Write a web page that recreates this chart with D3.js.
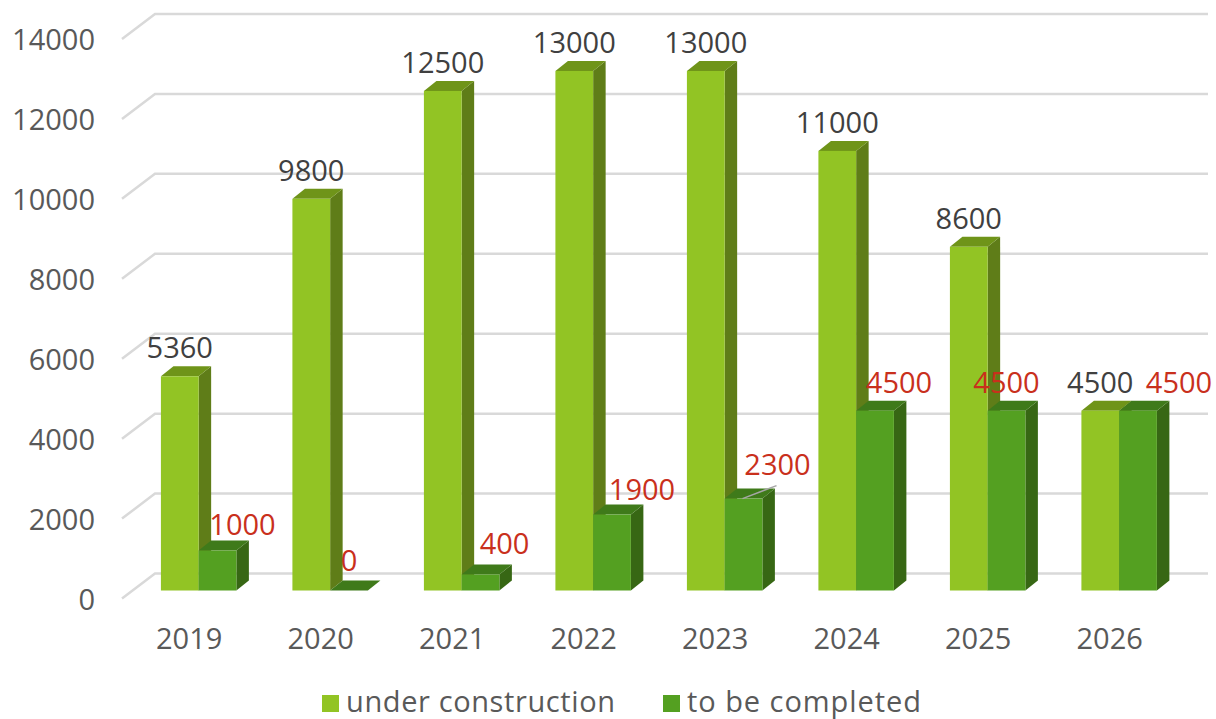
<!DOCTYPE html>
<html>
<head>
<meta charset="utf-8">
<script src="https://cdn.jsdelivr.net/npm/d3@7"></script>
<style>
html, body { margin: 0; padding: 0; background: #fff; }
svg { display: block; }
text { font-family: "Open Sans", sans-serif; }
</style>
</head>
<body>
<div id="graphHolder"></div>
<script>
var years = ["2019", "2020", "2021", "2022", "2023", "2024", "2025", "2026"];
var seriesNames = ["under construction", "to be completed"];
var underConstruction = [5360, 9800, 12500, 13000, 13000, 11000, 8600, 4500];
var toBeCompleted = [1000, 0, 400, 1900, 2300, 4500, 4500, 4500];
var yTicks = [0, 2000, 4000, 6000, 8000, 10000, 12000, 14000];

// hand placed data labels of the second series, offset from the default spot
var nudgeX = [25, 0, 24, 30, 34, 24, 0, 41];
var nudgeY = [-16, -20, -21, -15, -24, -18, -18, -18];

var graphWidth = 1216, graphHeight = 719;
var depthX = 12.5, depthY = 10;

var colors = [
    { front: "#92c424", side: "#5f7d18", top: "#6f9419" },
    { front: "#54a021", side: "#376714", top: "#3f7a1a" }
];

var svg = d3.select("#graphHolder")
        .append("svg").attr("id", "graph")
        .attr("width", graphWidth)
        .attr("height", graphHeight);

var x = d3.scaleBand()
        .domain(years)
        .range([132.9, 1184.9])
        .paddingInner(0.426)
        .paddingOuter(0.213);

var xSeries = d3.scaleBand()
        .domain(seriesNames)
        .range([0, x.bandwidth()]);

var y = d3.scaleLinear()
        .domain([0, 14000])
        .range([590.5, 31]);

// gridlines: left wall then back wall
svg.append("g").selectAll("polyline")
        .data(yTicks)
        .enter().append("polyline")
        .attr("fill", "none")
        .attr("stroke", "#d9d9d9")
        .attr("stroke-width", 2.5)
        .attr("points", function (d) {
            return [[122, y(d) + 8], [155, y(d) - 17], [1208, y(d) - 17]].join(" ");
        });

// y axis labels
var yAxis = svg.append("g")
        .attr("transform", "translate(95,9.5)")
        .call(d3.axisLeft(y).tickValues(yTicks).tickSize(0).tickPadding(0).tickFormat(d3.format("d")));
yAxis.select(".domain").remove();
yAxis.selectAll("text")
        .attr("fill", "#595959")
        .attr("font-size", 29)
        .style("font-family", "'Open Sans', sans-serif");

// x axis labels
var xAxis = svg.append("g")
        .attr("transform", "translate(-9.5,628)")
        .call(d3.axisBottom(x).tickSize(0).tickPadding(0));
xAxis.select(".domain").remove();
xAxis.selectAll("text")
        .attr("fill", "#595959")
        .attr("font-size", 29)
        .style("font-family", "'Open Sans', sans-serif");

function drawBar(g, year, value, i) {
    var x0 = x(year) + xSeries(seriesNames[i]);
    var w = xSeries.bandwidth();
    var yT = y(value), yB = y(0);
    var c = colors[i];

    if (value > 0) {
        g.append("polygon")
                .attr("fill", c.side)
                .attr("points", [[x0 + w, yT], [x0 + w + depthX, yT - depthY], [x0 + w + depthX, yB - depthY], [x0 + w, yB]].join(" "));
    }
    g.append("polygon")
            .attr("fill", c.top)
            .attr("points", [[x0, yT], [x0 + depthX, yT - depthY], [x0 + w + depthX, yT - depthY], [x0 + w, yT]].join(" "));
    if (value > 0) {
        g.append("rect")
                .attr("x", x0)
                .attr("y", yT)
                .attr("width", w)
                .attr("height", yB - yT)
                .attr("fill", c.front);
    }
}

var bars = svg.append("g");
years.forEach(function (year, k) {
    var g = bars.append("g");
    drawBar(g, year, underConstruction[k], 0);
    drawBar(g, year, toBeCompleted[k], 1);
});

// leader line of the 2023 label
var k2023 = years.indexOf("2023");
svg.append("line")
        .attr("x1", x("2023") + xSeries(seriesNames[1]) + xSeries.bandwidth() / 2 - 1)
        .attr("y1", y(toBeCompleted[k2023]))
        .attr("x2", x("2023") + xSeries(seriesNames[1]) + xSeries.bandwidth() / 2 + 33)
        .attr("y2", y(toBeCompleted[k2023]) - 13)
        .attr("stroke", "#a6a6a6")
        .attr("stroke-width", 1.5);

// data labels
svg.append("g").selectAll("text")
        .data(underConstruction)
        .enter().append("text")
        .attr("x", function (d, i) { return x(years[i]) + xSeries(seriesNames[0]) + xSeries.bandwidth() / 2; })
        .attr("y", function (d) { return y(d) - 18; })
        .attr("text-anchor", "middle")
        .attr("font-size", 29)
        .attr("fill", "#404040")
        .text(function (d) { return d; });

svg.append("g").selectAll("text")
        .data(toBeCompleted)
        .enter().append("text")
        .attr("x", function (d, i) { return x(years[i]) + xSeries(seriesNames[1]) + xSeries.bandwidth() / 2 + nudgeX[i]; })
        .attr("y", function (d, i) { return y(d) + nudgeY[i]; })
        .attr("text-anchor", "middle")
        .attr("font-size", 29)
        .attr("fill", "#c9301c")
        .text(function (d) { return d; });

// legend
var legendX = [322, 663];
var legendWidth = [269, 234];
var legend = svg.append("g").selectAll("g")
        .data(seriesNames)
        .enter().append("g")
        .attr("transform", function (d, i) { return "translate(" + legendX[i] + ",695)"; });
legend.append("rect")
        .attr("width", 17)
        .attr("height", 17)
        .attr("fill", function (d, i) { return colors[i].front; });
legend.append("text")
        .attr("x", 24)
        .attr("y", 17)
        .attr("font-size", 29)
        .attr("fill", "#595959")
        .attr("textLength", function (d, i) { return legendWidth[i]; })
        .text(function (d) { return d; });
</script>
</body>
</html>
